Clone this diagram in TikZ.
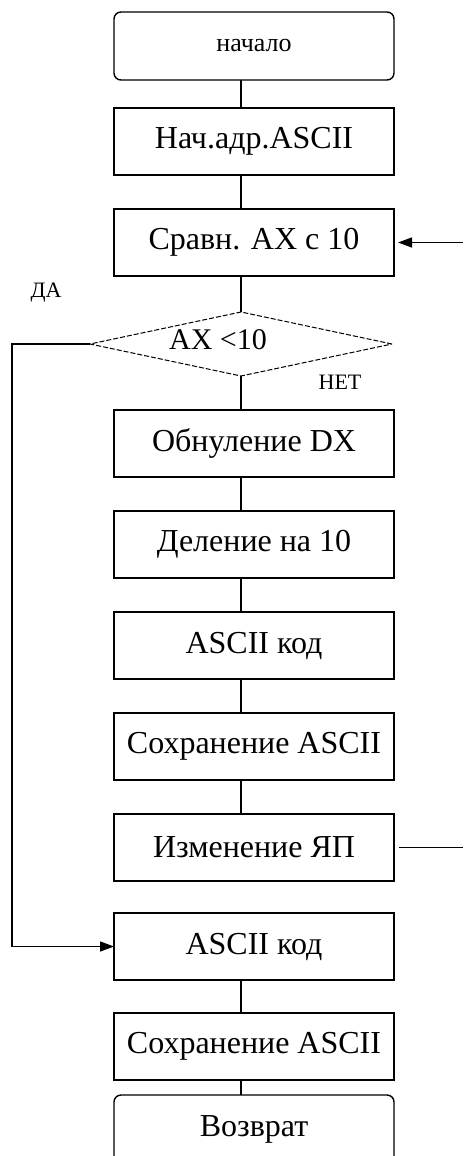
\documentclass[tikz,border=0pt]{standalone}
\usepackage{fontspec}
\setmainfont{Liberation Serif}
\usetikzlibrary{shapes.geometric, arrows.meta, positioning}

\begin{document}
\begin{tikzpicture}[>={Triangle[length=7pt,width=5pt]}, line width=0.7pt,
    proc/.style={draw, rectangle, minimum width=140pt, minimum height=33.5pt,
      inner sep=0pt, outer sep=0pt, font=\fontsize{16}{19}\selectfont},
    term/.style={proc, rounded corners=3.5pt, minimum height=34pt},
    cond/.style={draw, diamond, aspect=4.7, minimum width=151pt, minimum height=32pt,
      inner sep=0pt, outer sep=0pt, line width=0.5pt, dash pattern=on 2.5pt off 1pt},
    otvet/.style={font=\fontsize{11}{13}\selectfont},
    node distance=17pt]
  \useasboundingbox (0,0) rectangle (231.5pt,-578pt);

  \node[term, font=\fontsize{13}{15}\selectfont] (start) at (127pt,-23pt) {начало};
  \node[proc, below=14pt of start] (b1) {Нач.адр.ASCII};
  \node[proc, below=of b1] (b2) {Сравн. AX с 10};
  \node[cond, below=18pt of b2, xshift=-6.5pt] (d) {};
  \node[font=\fontsize{15}{17}\selectfont] (dt) at ([xshift=-11.5pt,yshift=2pt]d.center) {AX <10};
  \node[proc, below=of d, xshift=6.5pt] (b3) {Обнуление DX};
  \node[proc, below=of b3] (b4) {Деление на 10};
  \node[proc, below=of b4] (b5) {ASCII код};
  \node[proc, below=of b5] (b6) {Сохранение ASCII};
  \node[proc, below=of b6] (b7) {Изменение ЯП};
  \node[proc, below=16pt of b7] (b8) {ASCII код};
  \node[proc, below=16.5pt of b8] (b9) {Сохранение ASCII};
  \node[term, below=7.5pt of b9] (konec) {Возврат};

  \node[otvet] (da) at (23pt,-146.5pt) {ДА};
  \node[otvet] (net) at (170pt,-191pt) {НЕТ};

  % vertical line of the flow
  \coordinate (ax) at (d.north);
  \foreach \a/\b in {start/b1, b1/b2, b2/d, d/b3, b3/b4, b4/b5, b5/b6, b6/b7, b8/b9, b9/konec}
    \draw (\a.south -| ax) -- (\b.north -| ax);

  % branch ДА
  \coordinate (lv) at (6pt,0);
  \draw[->] (d.west) -- (d.west -| lv) |- (b8.west);

  % cycle ends on the right
  \coordinate (vh) at ([xshift=34.5pt]b2.east);
  \draw[->, shorten >=2pt] (vh) -- (b2.east);
  \coordinate (vyh) at ([xshift=34.5pt]b7.east);
  \draw[shorten <=2.5pt] (b7.east) -- (vyh);
\end{tikzpicture}
\end{document}
